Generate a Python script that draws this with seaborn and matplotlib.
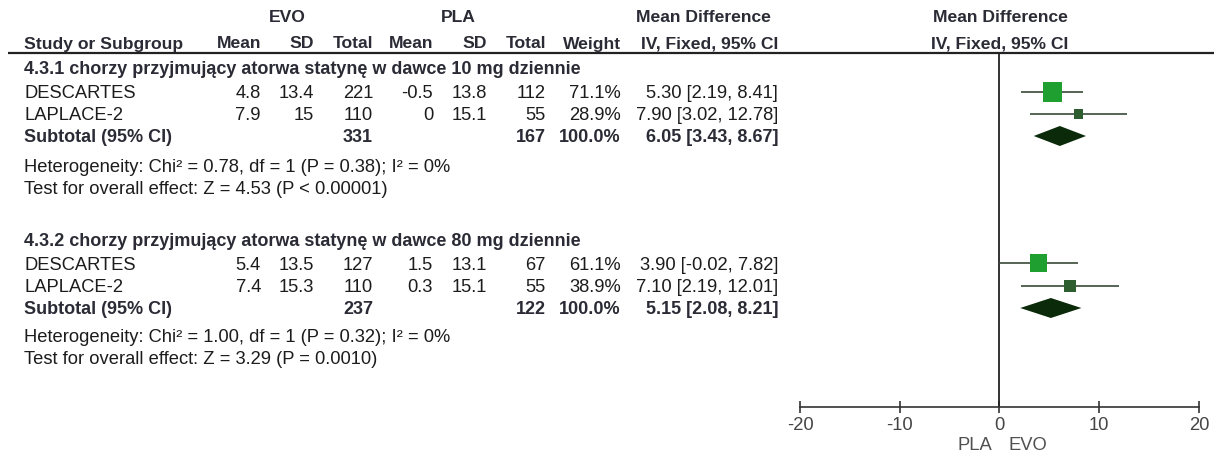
import matplotlib
matplotlib.use("Agg")
import matplotlib.pyplot as plt
import numpy as np
import pandas as pd
import seaborn as sns
from matplotlib.patches import Polygon

sns.set_theme(style="white")
plt.rcParams["font.family"] = ["Liberation Sans", "DejaVu Sans"]

# ---------------- data ----------------
subgroups = [
    "4.3.1 chorzy przyjmujący atorwa statynę w dawce 10 mg dziennie",
    "4.3.2 chorzy przyjmujący atorwa statynę w dawce 80 mg dziennie",
]
study = ["DESCARTES", "LAPLACE-2", "DESCARTES", "LAPLACE-2"]
subgroup_idx = [0, 0, 1, 1]
evo_mean = [4.8, 7.9, 5.4, 7.4]
evo_sd = [13.4, 15, 13.5, 15.3]
evo_n = [221, 110, 127, 110]
pla_mean = [-0.5, 0, 1.5, 0.3]
pla_sd = [13.8, 15.1, 13.1, 15.1]
pla_n = [112, 55, 67, 55]
weight = [71.1, 28.9, 61.1, 38.9]
md = [5.30, 7.90, 3.90, 7.10]
md_lo = [2.19, 3.02, -0.02, 2.19]
md_hi = [8.41, 12.78, 7.82, 12.01]

sub_evo_n = [331, 237]
sub_pla_n = [167, 122]
sub_md = [6.05, 5.15]
sub_lo = [3.43, 2.08]
sub_hi = [8.67, 8.21]
het_chi2 = [0.78, 1.00]
het_df = [1, 1]
het_p = ["0.38", "0.32"]
het_i2 = [0, 0]
z_val = [4.53, 3.29]
z_p = ["< 0.00001", "= 0.0010"]

x_ticks = [-20, -10, 0, 10, 20]
favours = ["PLA", "EVO"]

# ---------------- layout (figure pixels from top) ----------------
W, H = 1214, 454
head_y = [68, 240]
study_y = [92, 114, 263, 286]
sub_y = [136, 308]
het_y = [166, 335]
test_y = [187, 357]
col_r = dict(evo_mean=261, evo_sd=314, evo_n=373, pla_mean=433, pla_sd=487,
             pla_n=546, weight=621, ci=778)
FS = 13.2        # body text
FS_HEAD = 12.6   # column headers
FS_BOLD = 13.0   # subgroup headings and subtotals
TXT = "#1c1c1c"
HDR = "#2b2b36"
BASE = 6.5  # half cap height, centre -> baseline

fig = plt.figure(figsize=(W / 100, H / 100), dpi=100)
tx = fig.add_axes([0, 0, 1, 1])
tx.set_xlim(0, W)
tx.set_ylim(H, 0)
tx.axis("off")


def put(x, y, s, ha="left", bold=False, color=TXT, size=None):
    if size is None:
        size = FS_BOLD if bold else FS
    tx.text(x, y + BASE, s, ha=ha, va="baseline", fontsize=size,
            fontweight="bold" if bold else "normal", color=color)


def head(x, y, s, ha):
    put(x, y, s, ha=ha, bold=True, color=HDR, size=FS_HEAD)


def g(v):
    return f"{v:g}"


def ci_txt(m, lo, hi):
    return f"{m:.2f} [{lo:.2f}, {hi:.2f}]"


# column headers
head(287, 16, "EVO", "center")
head(458, 16, "PLA", "center")
head(703, 16, "Mean Difference", "center")
head(1000, 16, "Mean Difference", "center")
head(24, 42, "Study or Subgroup", "left")
for key, lab in [("evo_mean", "Mean"), ("evo_sd", "SD"), ("evo_n", "Total"),
                 ("pla_mean", "Mean"), ("pla_sd", "SD"), ("pla_n", "Total"),
                 ("weight", "Weight"), ("ci", "IV, Fixed, 95% CI")]:
    head(col_r[key], 42, lab, "right")
head(1000, 42, "IV, Fixed, 95% CI", "center")
tx.plot([8, W], [53, 53], color="#222222", lw=1.6, solid_capstyle="butt")

# study rows
for i in range(len(study)):
    y = study_y[i]
    put(24, y, study[i])
    put(col_r["evo_mean"], y, g(evo_mean[i]), ha="right")
    put(col_r["evo_sd"], y, g(evo_sd[i]), ha="right")
    put(col_r["evo_n"], y, str(evo_n[i]), ha="right")
    put(col_r["pla_mean"], y, g(pla_mean[i]), ha="right")
    put(col_r["pla_sd"], y, g(pla_sd[i]), ha="right")
    put(col_r["pla_n"], y, str(pla_n[i]), ha="right")
    put(col_r["weight"], y, f"{weight[i]:.1f}%", ha="right")
    put(col_r["ci"], y, ci_txt(md[i], md_lo[i], md_hi[i]), ha="right")

# subgroup headings, subtotals, statistics
for k in range(len(subgroups)):
    put(24, head_y[k], subgroups[k], bold=True, color=HDR)
    y = sub_y[k]
    put(24, y, "Subtotal (95% CI)", bold=True, color=HDR)
    put(col_r["evo_n"], y, str(sub_evo_n[k]), ha="right", bold=True, color=HDR)
    put(col_r["pla_n"], y, str(sub_pla_n[k]), ha="right", bold=True, color=HDR)
    tot_w = sum(w for w, s in zip(weight, subgroup_idx) if s == k)
    put(col_r["weight"], y, f"{tot_w:.1f}%", ha="right", bold=True, color=HDR)
    put(col_r["ci"], y, ci_txt(sub_md[k], sub_lo[k], sub_hi[k]), ha="right",
        bold=True, color=HDR)
    put(24, het_y[k],
        f"Heterogeneity: Chi² = {het_chi2[k]:.2f}, df = {het_df[k]} "
        f"(P = {het_p[k]}); I² = {het_i2[k]}%")
    put(24, test_y[k],
        f"Test for overall effect: Z = {z_val[k]:.2f} (P {z_p[k]})")

# favours labels under the axis
put(992, 443, favours[0], ha="right", color="#505050")
put(1008, 443, favours[1], ha="left", color="#505050")

# ---------------- forest plot ----------------
ax_top, ax_bot = 53, 407
x_left, x_right = 800, 1199
fa = fig.add_axes([x_left / W, 1 - ax_bot / H, (x_right - x_left) / W,
                   (ax_bot - ax_top) / H])
fa.set_facecolor("none")
fa.set_xlim(x_ticks[0], x_ticks[-1])
fa.set_ylim(ax_bot, ax_top)

df = pd.DataFrame(dict(study=study, md=md, lo=md_lo, hi=md_hi,
                       weight=weight, y=study_y))

fa.axvline(0, color="#222222", lw=1.3, zorder=1)
fa.hlines(df["y"], df["lo"], df["hi"], color="#3a4a3a", lw=1.2, zorder=2)
sns.scatterplot(data=df, x="md", y="y", hue="study",
                palette={"DESCARTES": "#1f9f2f", "LAPLACE-2": "#2e5e30"},
                size="weight", sizes=(42, 190), marker="s", linewidth=0,
                legend=False, ax=fa, zorder=3)

for k in range(len(subgroups)):
    y = sub_y[k]
    fa.add_patch(Polygon([(sub_lo[k], y), (sub_md[k], y - 10),
                          (sub_hi[k], y), (sub_md[k], y + 10)],
                         closed=True, facecolor="#0a2a0a", edgecolor="none",
                         zorder=3))

for side in ["top", "right", "left"]:
    fa.spines[side].set_visible(False)
fa.spines["bottom"].set_color("#333333")
fa.spines["bottom"].set_linewidth(1.2)
fa.set_xticks(x_ticks)
fa.set_xticklabels([str(t) for t in x_ticks])
fa.set_yticks([])
fa.set_xlabel("")
fa.set_ylabel("")
fa.tick_params(axis="x", direction="inout", length=9, width=1.2,
               color="#333333", labelsize=FS, labelcolor="#454545", pad=3,
               bottom=True)

fig.savefig("out.png", dpi=100)
